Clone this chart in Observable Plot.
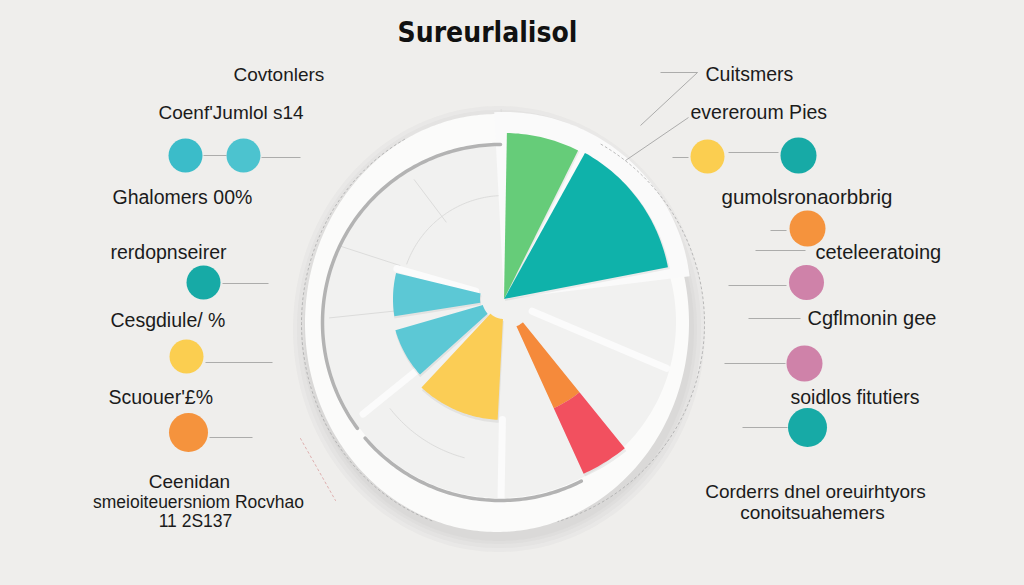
<!DOCTYPE html>
<html><head><meta charset="utf-8">
<script src="https://cdn.jsdelivr.net/npm/d3@7"></script>
<script src="https://cdn.jsdelivr.net/npm/@observablehq/plot@0.6"></script>
<style>
html,body{margin:0;padding:0;background:#efeeec;}
#chart{width:1024px;height:585px;overflow:hidden;}
</style></head><body><div id="chart"></div>
<script>
// ================= DATA =================
const chartTitle = "Sureurlalisol";
// rose / pie sectors (angles in degrees, clockwise from 12 o'clock; radii in chart units)
const sectorNames  = ["green", "teal", "orange", "red", "yellow", "blueLow", "blueHigh"];
const sectorStart  = [1, 29, 141, 141, 183, 228, 261];
const sectorEnd    = [26.5, 79, 155.5, 155.5, 223, 254, 283.5];
const sectorInner  = [0, 0, 30, 120, 20, 22, 24];
const sectorOuter  = [166, 167, 120, 192, 121, 113, 111];

const leftLabels   = ["Covtonlers", "Coenf'Jumlol s14", "Ghalomers 00%", "rerdopnseirer", "Cesgdiule/ %", "Scuouer'£%"];
const leftFooter   = ["Ceenidan", "smeioiteuersniom Rocvhao", "11 2S137"];
const rightLabels  = ["Cuitsmers", "evereroum Pies", "gumolsronaorbbrig", "ceteleeratoing", "Cgflmonin gee", "soidlos fitutiers"];
const rightFooter  = ["Corderrs dnel oreuirhtyors", "conoitsuahemers"];
const leftDots     = ["cyan", "lightblue", "teal", "yellow", "orange"];
const rightDots    = ["yellow", "teal", "orange", "pink", "pink", "teal"];

// ================= STYLE / LAYOUT =================
const palette = {
  green: "#66cc79", teal: "#0fb2aa", orange: "#f58a3b", red: "#f2505f", yellow: "#fbcd55",
  blueLow: "#5cc8d5", blueHigh: "#5cc8d5"
};
const dotColor = {cyan: "#3bbcc9", lightblue: "#4cc3cf", teal: "#17aaa6", yellow: "#fbce50", orange: "#f5933d", pink: "#cf82a9"};
const C = {x: 504, y: 299};          // pie centre
const D = {x: 497, y: 323, rx: 192, ry: 209}; // paper disk
const F = {x: 500, y: 322, r: 178};  // inner face / gray arc
const leftLabelPos  = [[233, 74, 19], [158, 112, 19], [112, 197, 19.5], [110, 252, 19.5], [110, 320, 19.5], [108, 397, 19.5]];
const leftFooterPos = [[189, 481, 19], [198, 502, 17.5], [195, 521, 17.5]];
const rightLabelPos = [[705, 74, 19.5], [690, 112, 19.5], [721, 197, 20.5], [815, 252, 20], [807, 318, 20], [790, 397, 19.5]];
const rightFooterPos= [[815, 491, 19], [812, 512, 19]];
const leftDotPos  = [[185, 155, 17], [243, 155, 17], [203, 282, 17], [186, 356, 17], [188, 432, 19.5]];
const rightDotPos = [[707, 156, 17], [798, 155, 18], [807, 228, 18], [806, 282, 17.5], [804, 363, 18], [807, 427, 19.5]];

// ================= GEOMETRY HELPERS =================
const rad = a => a * Math.PI / 180;
// annular sector as an area: outer arc (x1,y1) and matching inner arc (x2,y2)
function ring(id, cx, cy, a0, a1, r0, r1, ky = 1) {
  const n = Math.max(2, Math.ceil(Math.abs(a1 - a0)));
  const rows = [];
  for (let i = 0; i <= n; i++) {
    const a = rad(a0 + (a1 - a0) * i / n), s = Math.sin(a), c = Math.cos(a);
    rows.push({id, x1: cx + r1 * s, y1: cy - r1 * ky * c, x2: cx + r0 * s, y2: cy - r0 * ky * c});
  }
  return rows;
}
function arcLine(id, cx, cy, a0, a1, r, ky = 1) {
  const n = Math.max(2, Math.ceil(Math.abs(a1 - a0)));
  const pts = [];
  for (let i = 0; i <= n; i++) { const a = rad(a0 + (a1 - a0) * i / n); pts.push({id, x: cx + r * Math.sin(a), y: cy - r * ky * Math.cos(a)}); }
  return pts;
}
function ray(id, cx, cy, a, r0, r1) {
  return [{id, x: cx + r0 * Math.sin(rad(a)), y: cy - r0 * Math.cos(rad(a))}, {id, x: cx + r1 * Math.sin(rad(a)), y: cy - r1 * Math.cos(rad(a))}];
}

// ================= SHAPES =================
const shadows = [14, 10, 6, 3].map((g, j) => ring("sh" + j, D.x + 2, D.y + 6, 0, 360, 0, D.rx + g, (D.ry + g) / (D.rx + g)));
const disk = ring("disk", D.x, D.y, 0, 360, 0, D.rx, D.ry / D.rx);
const face = ring("face", F.x, F.y, 0, 360, 0, F.r - 2);
const backing = ring("backing", C.x, C.y, -3, 83, 0, 187);
const faint = [
  ...ray("f1", C.x, C.y, 323, 97, 150), ...ray("f2", C.x, C.y, 288, 110, 172), ...ray("f3", C.x, C.y, 264, 110, 176),
  ...arcLine("f4", C.x, C.y, 290, 358, 104), ...arcLine("f5", F.x, F.y, 195, 232, 140), ...ray("f6", C.x, C.y, 359, 168, 190)
];
const bands = [
  ...ray("b1", C.x, C.y, 113, 30, 176), ...ray("b2", C.x, C.y, 181, 120, 205), ...ray("b3", C.x, C.y, 231, 110, 182),
  ...ray("b4", C.x, C.y, 286, 30, 112)
];
const grayArc = [...arcLine("g1", F.x, F.y, 153, 229.5, F.r), ...arcLine("g2", F.x, F.y, 233.5, 360, F.r)];
const dashed = [...arcLine("d1", D.x + 2, D.y, 200, 332, 198, 1.06), ...arcLine("d2", D.x, D.y, 30, 163, 207, 1.0)];
const dashedRed = [{id: "r1", x: 300, y: 438}, {id: "r1", x: 335, y: 500}];

const connectors = [
  [203, 155, 226, 155], [261, 157, 300, 157], [222, 283, 268, 283], [205, 362, 272, 362], [209, 437, 252, 437],
  [672, 157, 688, 157], [728, 152, 778, 152], [770, 230, 786, 230], [755, 250, 805, 250], [728, 285, 786, 285],
  [748, 318, 800, 318], [724, 363, 785, 363], [742, 427, 787, 427],
  [697, 72, 640, 125], [688, 117, 625, 160], [660, 72, 697, 72]
].map(([x1, y1, x2, y2]) => ({x1, y1, x2, y2}));

const startTexts = [
  ...leftLabels.map((t, i) => ({t, x: leftLabelPos[i][0], y: leftLabelPos[i][1], s: leftLabelPos[i][2]})),
  ...rightLabels.map((t, i) => ({t, x: rightLabelPos[i][0], y: rightLabelPos[i][1], s: rightLabelPos[i][2]}))
];
const midTexts = [
  ...leftFooter.map((t, i) => ({t, x: leftFooterPos[i][0], y: leftFooterPos[i][1], s: leftFooterPos[i][2]})),
  ...rightFooter.map((t, i) => ({t, x: rightFooterPos[i][0], y: rightFooterPos[i][1], s: rightFooterPos[i][2]}))
];
const dots = [
  ...leftDots.map((k, i) => ({x: leftDotPos[i][0], y: leftDotPos[i][1], r: leftDotPos[i][2], fill: dotColor[k]})),
  ...rightDots.map((k, i) => ({x: rightDotPos[i][0], y: rightDotPos[i][1], r: rightDotPos[i][2], fill: dotColor[k]}))
];

const font = "'Liberation Sans', Arial, sans-serif";
const poly = (data, fill, extra = {}) => Plot.area(data, {x1: "x1", y1: "y1", x2: "x2", y2: "y2", fill, ...extra});
const sectorMarks = sectorNames.map((k, i) =>
  poly(ring(k, C.x, C.y, sectorStart[i], sectorEnd[i], sectorInner[i], sectorOuter[i]), palette[k]));
const sectorShadows = sectorNames.map((k, i) =>
  poly(ring(k, C.x + 1, C.y + 2, sectorStart[i], sectorEnd[i], sectorInner[i], sectorOuter[i] + 1), "#000", {fillOpacity: 0.06}));

const plot = Plot.plot({
  width: 1024, height: 585, margin: 0,
  x: {domain: [0, 1024], range: [0, 1024], axis: null},
  y: {domain: [0, 585], range: [0, 585], axis: null},
  r: {type: "identity"},
  style: {background: "transparent", overflow: "visible"},
  marks: [
    ...shadows.map(s => poly(s, "#8a8580", {fillOpacity: 0.05})),
    poly(disk, "#fbfbfa"),
    poly(face, "#f1f1f0"),
    Plot.line(faint, {x: "x", y: "y", z: "id", stroke: "#dcdcdb", strokeWidth: 1}),
    poly(backing, "#fafafa"),
    Plot.line(bands, {x: "x", y: "y", z: "id", stroke: "#fbfbfb", strokeWidth: 7}),
    Plot.line(grayArc, {x: "x", y: "y", z: "id", stroke: "#b3b3b3", strokeWidth: 3.5}),
    ...sectorShadows,
    ...sectorMarks,
    Plot.line(dashed, {x: "x", y: "y", z: "id", stroke: "#a9a9a9", strokeWidth: 0.8, strokeDasharray: "2,3"}),
    Plot.line(dashedRed, {x: "x", y: "y", z: "id", stroke: "#d9a0a0", strokeWidth: 0.8, strokeDasharray: "2,3"}),
    Plot.link(connectors, {x1: "x1", y1: "y1", x2: "x2", y2: "y2", stroke: "#9a9a9a", strokeWidth: 0.8}),
    Plot.dot(dots, {x: "x", y: "y", r: "r", fill: "fill", stroke: "none"}),
    ...startTexts.map(d => Plot.text([d], {x: "x", y: "y", text: "t", textAnchor: "start", fill: "#1b1b1b", fontSize: d.s, fontFamily: font})),
    ...midTexts.map(d => Plot.text([d], {x: "x", y: "y", text: "t", textAnchor: "middle", fill: "#1b1b1b", fontSize: d.s, fontFamily: font})),
    Plot.text([chartTitle], {x: () => 487, y: () => 33, text: d => d, fill: "#111", fontSize: 28, fontWeight: "bold",
      fontFamily: "'Liberation Sans Narrow', 'DejaVu Sans Condensed', sans-serif"})
  ]
});
document.getElementById("chart").appendChild(plot);
</script></body></html>
